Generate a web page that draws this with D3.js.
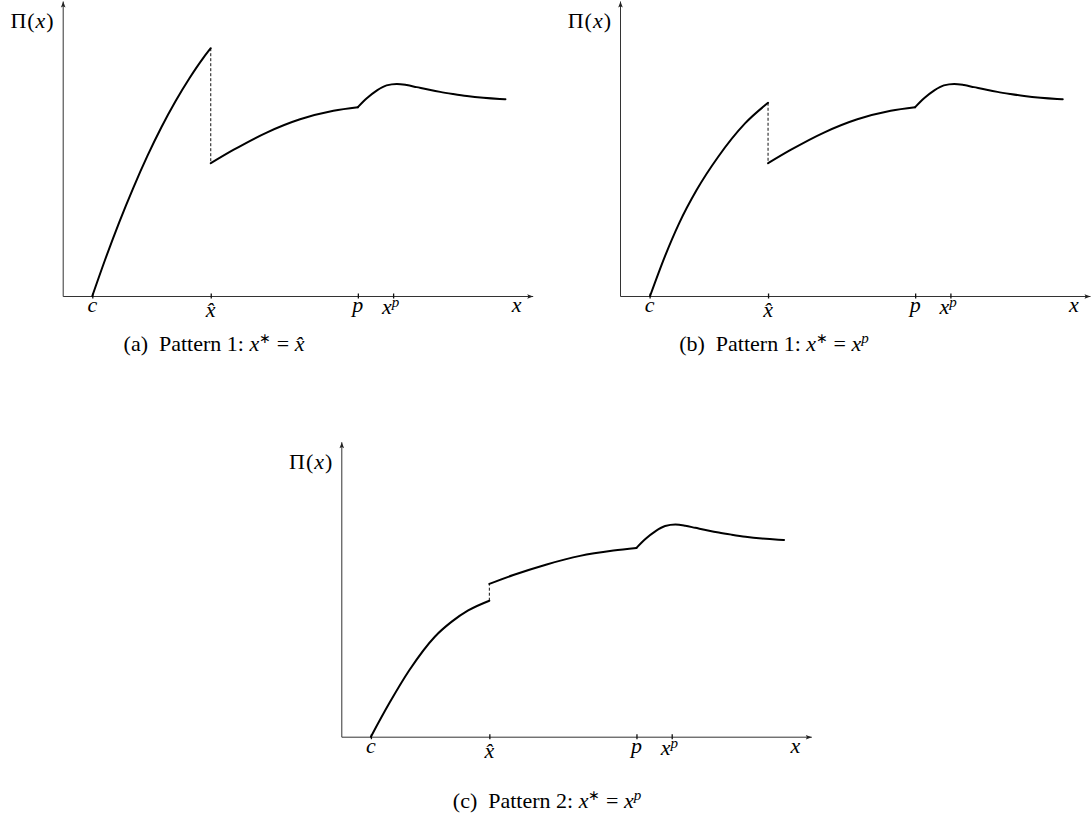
<!DOCTYPE html>
<html>
<head>
<meta charset="utf-8">
<script src="https://cdn.jsdelivr.net/npm/d3@7"></script>
<style>
  body { margin: 0; background: #fff; }
  svg { display: block; }
</style>
</head>
<body>
<script>
// x positions of the marked points (axis runs 0..10)
const tickNames = ["c", "xhat", "p", "xp"];
const tickPos = [0.63, 3.15, 6.28, 7.03];

// branch from c up to x-hat, one per panel
const riseA = [[0.63, 0], [0.90, 1.22], [1.20, 2.49], [1.50, 3.66], [1.80, 4.74], [2.10, 5.72],
               [2.40, 6.60], [2.70, 7.39], [3.00, 8.09], [3.15, 8.40]];
const riseB = [[0.64, 0], [0.96, 1.36], [1.26, 2.47], [1.63, 3.59], [2.09, 4.72], [2.66, 5.85], [3.15, 6.55]];
const riseC = [[0.63, 0], [1.02, 1.13], [1.45, 2.26], [1.99, 3.39], [2.35, 3.90], [2.70, 4.28], [3.15, 4.61]];

// branch from x-hat to p
const midAB = [[3.15, 4.50], [3.63, 4.95], [4.34, 5.54], [5.05, 5.99], [5.76, 6.28], [6.28, 6.40]];
const midC = [[3.15, 5.18], [3.66, 5.48], [4.37, 5.84], [5.08, 6.13], [5.79, 6.31], [6.28, 6.40]];

// bump after p, same in every panel
const tail = [[6.28, 6.40], [6.47, 6.70], [6.68, 6.96], [6.89, 7.14], [7.11, 7.19], [7.32, 7.15],
              [7.53, 7.08], [7.80, 6.99], [8.03, 6.92], [8.30, 6.85], [8.60, 6.78], [8.95, 6.72],
              [9.30, 6.68], [9.42, 6.67]];

const W = 1091, H = 825;
const serif = "'Liberation Serif', 'Times New Roman', serif";

const svg = d3.select("body").append("svg")
  .attr("width", W)
  .attr("height", H);

svg.append("defs").append("marker")
  .attr("id", "arr")
  .attr("viewBox", "-7 -3 8 6")
  .attr("markerUnits", "userSpaceOnUse")
  .attr("markerWidth", 8)
  .attr("markerHeight", 6)
  .attr("refX", 0)
  .attr("refY", 0)
  .attr("orient", "auto")
  .append("path")
  .attr("d", "M-6,-2.3L0,0L-6,2.3L-4.8,0Z")
  .attr("fill", "#222");

const x = d3.scaleLinear().domain([0, 10]).range([0, 470]);
const y = d3.scaleLinear().domain([0, 10]).range([0, -295]);

const line = d3.line()
  .x(d => x(d[0]))
  .y(d => y(d[1]))
  .curve(d3.curveMonotoneX);

function mathText(g, px, py) {
  return g.append("text")
    .attr("x", px)
    .attr("y", py)
    .attr("text-anchor", "middle")
    .attr("font-family", serif)
    .attr("font-size", 22)
    .attr("font-style", "italic");
}

function tickLabel(g, name, px) {
  if (name === "c") mathText(g, px, 16).text("c");
  if (name === "p") mathText(g, px, 16).text("p");
  if (name === "xhat") mathText(g, px, 21).text("x\u0302");
  if (name === "xp") {
    const t = mathText(g, px - 11, 18).attr("text-anchor", "start");
    t.append("tspan").text("x");
    t.append("tspan").attr("dy", -7).attr("font-size", 15).text("p");
  }
}

function drawPanel(ox, oy, rise, mid) {
  const g = svg.append("g").attr("transform", `translate(${ox},${oy})`);

  const xAxis = d3.axisBottom(x)
    .tickValues(tickPos)
    .tickSize(5)
    .tickSizeOuter(0)
    .tickFormat("");
  const ax = g.append("g").call(xAxis);
  ax.select(".domain").attr("stroke", "#333").attr("stroke-width", 1).attr("marker-end", "url(#arr)");
  ax.selectAll(".tick line").attr("y1", -2.5).attr("y2", 2.5).attr("stroke", "#111").attr("stroke-width", 1.3);

  const yAxis = d3.axisLeft(y).tickValues([]).tickSizeOuter(0);
  const ay = g.append("g").call(yAxis);
  ay.select(".domain").attr("stroke", "#333").attr("stroke-width", 1).attr("marker-end", "url(#arr)");

  tickNames.forEach((n, i) => tickLabel(g, n, x(tickPos[i])));

  mathText(g, x(10) - 16, 16).text("x");

  const yl = g.append("text")
    .attr("x", -8)
    .attr("y", y(10) + 27)
    .attr("text-anchor", "end")
    .attr("font-family", serif)
    .attr("font-size", 22)
    .attr("letter-spacing", 1);
  yl.append("tspan").text("\u03A0(");
  yl.append("tspan").attr("font-style", "italic").text("x");
  yl.append("tspan").text(")");

  // jump at x-hat
  const a = rise[rise.length - 1], b = mid[0];
  g.append("line")
    .attr("x1", x(a[0])).attr("y1", y(a[1]))
    .attr("x2", x(b[0])).attr("y2", y(b[1]))
    .attr("stroke", "#111")
    .attr("stroke-width", 1)
    .attr("stroke-dasharray", "3,2");

  [rise, mid, tail].forEach(s => {
    g.append("path")
      .attr("d", line(s))
      .attr("fill", "none")
      .attr("stroke", "#000")
      .attr("stroke-width", 2)
      .attr("stroke-linecap", "round");
  });
}

function caption(cx, cy, tag, num, last) {
  const t = svg.append("text")
    .attr("x", cx)
    .attr("y", cy)
    .attr("text-anchor", "middle")
    .attr("font-family", serif)
    .attr("font-size", 22);
  t.append("tspan").text(`(${tag})\u2002Pattern ${num}: `);
  t.append("tspan").attr("font-style", "italic").text("x");
  t.append("tspan").attr("dy", -8).attr("font-size", 14).text("\u2217");
  t.append("tspan").attr("dy", 8).text("\u2005=\u2005");
  if (last === "hat") {
    t.append("tspan").attr("font-style", "italic").text("x\u0302");
  } else {
    t.append("tspan").attr("font-style", "italic").text("x");
    t.append("tspan").attr("dy", -8).attr("font-size", 15).attr("font-style", "italic").text("p");
  }
}

drawPanel(62.7, 296, riseA, midAB);
drawPanel(620, 296, riseB, midAB);
drawPanel(341.3, 736.7, riseC, midC);

caption(214, 351, "a", 1, "hat");
caption(774, 351, "b", 1, "p");
caption(547, 808, "c", 2, "p");
</script>
</body>
</html>
